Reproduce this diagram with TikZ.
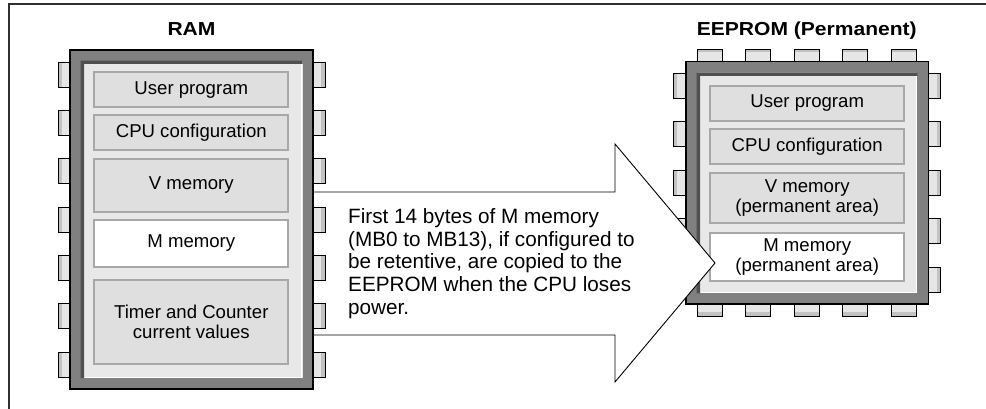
\documentclass[tikz,border=0pt]{standalone}
\usepackage{fontspec}
\usepackage{graphicx}
\setmainfont{Liberation Sans}
\definecolor{chipgray}{HTML}{808080}
\definecolor{chipshadow}{HTML}{505050}
\definecolor{panelfill}{HTML}{E8E8E8}
\definecolor{boxfill}{HTML}{DFDFDF}
\definecolor{boxline}{HTML}{A8A8A8}
\definecolor{pinfill}{HTML}{E6E6E6}
\definecolor{pindark}{HTML}{C2C2C2}
\definecolor{framecol}{HTML}{303030}
\begin{document}
\begin{tikzpicture}[x=1pt,y=-1pt,
  membox/.style={draw=boxline, line width=2pt, fill=boxfill, inner sep=0pt, align=center,
                 font=\fontsize{18.6}{19.5}\selectfont},
  mwhite/.style={membox, fill=white},
  chipbody/.style={draw=black, line width=1.2pt, fill=chipgray},
  pinedge/.style={draw=black, line width=0.8pt},
  titletext/.style={inner sep=0pt, anchor=base},
  notetext/.style={inner sep=0pt, align=left, font=\fontsize{20.7}{22.8}\selectfont}]
\useasboundingbox (0,0) rectangle (986,409);
% frame (top and left edges)
\draw[framecol, line width=1.2pt] (986,4) -- (9,4) -- (9,409);

% ================= EEPROM chip =================
\foreach \c in {709.8,758.2,806.6,855.0,903.4} {
  \fill[pinfill] (\c-12.5,49.3) rectangle (\c+12.5,61);
  \fill[pindark] (\c-12.5,49.3) rectangle (\c+12.5,52.5);
  \draw[pinedge] (\c-12.5,49.3) rectangle (\c+12.5,61);
  \fill[pinfill] (\c-12.5,304) rectangle (\c+12.5,316);
  \fill[pindark] (\c-12.5,312) rectangle (\c+12.5,316);
  \draw[pinedge] (\c-12.5,304) rectangle (\c+12.5,316);
}
\foreach \c in {85.5,134,182.5,231,279.5} {
  \fill[pinfill] (673.3,\c-12.5) rectangle (686,\c+12.5);
  \fill[pindark] (673.3,\c-12.5) rectangle (677,\c+12.5);
  \draw[pinedge] (673.3,\c-12.5) rectangle (686,\c+12.5);
  \fill[pinfill] (928.3,\c-12.5) rectangle (940.7,\c+12.5);
  \fill[pindark] (937,\c-12.5) rectangle (940.7,\c+12.5);
  \draw[pinedge] (928.3,\c-12.5) rectangle (940.7,\c+12.5);
}
\draw[chipbody] (686,61.5) rectangle (928.3,304);
\fill[panelfill] (696.5,72.5) rectangle (917.3,293.3);
\fill[chipshadow] (696.5,293.3) -- (696.5,72.5) -- (917.3,72.5) -- (917.3,76) -- (700.2,76) -- (700.2,293.3) -- cycle;
\draw[white, line width=1.3pt] (916.5,76.5) -- (916.5,292.6) -- (700.5,292.6);

\node[membox, minimum width=193.7, minimum height=34.7] (eup) at (807.2,103.3) {User program};
\node[membox, minimum width=193.7, minimum height=35.3] (ecpu) at (807.2,146.3) {CPU configuration};
\node[membox, minimum width=193.7, minimum height=50.3] (ev) at (807.2,197.8) {V memory\\(permanent area)};
\node[mwhite, minimum width=193.7, minimum height=47.4] (em) at (807.2,257) {M memory\\(permanent area)};

\node[titletext] (teeprom) at (806.8,35.7)
  {\scalebox{1.12}[1]{\fontsize{18.8}{22}\selectfont\bfseries EEPROM (Permanent)}};

% ================= block arrow =================
\coordinate (a1) at (300,192);
\coordinate (a2) at (615,192);
\coordinate (a3) at (615,144);
\coordinate (tip) at (715,263);
\coordinate (a5) at (615,382);
\coordinate (a6) at (615,335);
\coordinate (a7) at (300,335);
\filldraw[fill=white, draw=black, line width=0.9pt]
  (a1) -- (a2) -- (a3) -- (tip) -- (a5) -- (a6) -- (a7) -- cycle;

% ================= RAM chip =================
\foreach \c in {74.5,122.8,171.2,219.5,267.8,316.2,364.5} {
  \fill[pinfill] (58.3,\c-12.5) rectangle (70,\c+12.5);
  \fill[pindark] (58.3,\c-12.5) rectangle (62,\c+12.5);
  \draw[pinedge] (58.3,\c-12.5) rectangle (70,\c+12.5);
  \fill[pinfill] (313,\c-12.5) rectangle (325,\c+12.5);
  \fill[pindark] (321,\c-12.5) rectangle (325,\c+12.5);
  \draw[pinedge] (313,\c-12.5) rectangle (325,\c+12.5);
}
\draw[chipbody] (70,50) rectangle (313,389);
\fill[panelfill] (80.7,60.7) rectangle (302.5,378);
\fill[chipshadow] (80.7,378) -- (80.7,60.7) -- (302.5,60.7) -- (302.5,64) -- (84,64) -- (84,378) -- cycle;
\draw[white, line width=1.3pt] (301.8,64.5) -- (301.8,377.3) -- (84.5,377.3);

\node[membox, minimum width=194, minimum height=35.3] (rup) at (191.3,89.7) {User program};
\node[membox, minimum width=194, minimum height=34.7] (rcpu) at (191.3,132.3) {CPU configuration};
\node[membox, minimum width=194, minimum height=52.4] (rv) at (191.3,185.5) {V memory};
\node[mwhite, minimum width=194, minimum height=46.7] (rm) at (191.3,243.3) {M memory};
\node[membox, minimum width=194, minimum height=84] (rtc) at (191.3,322) {Timer and Counter\\current values};

\node[titletext] (tram) at (191.5,35.7)
  {\scalebox{1.12}[1]{\fontsize{18.8}{22}\selectfont\bfseries RAM}};

% ================= note text =================
\node[notetext, anchor=west] (note) at (348,263.5)
  {First 14 bytes of M memory\\(MB0 to MB13), if configured to\\be retentive, are copied to the\\EEPROM when the CPU loses\\power.};
\end{tikzpicture}
\end{document}
